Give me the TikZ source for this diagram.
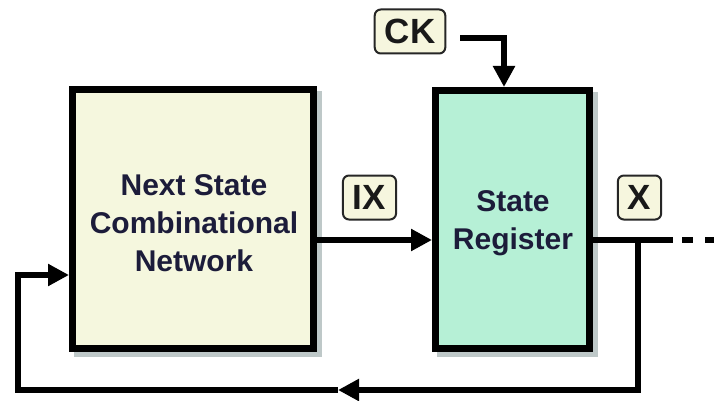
\documentclass[tikz,border=0pt]{standalone}
\usepackage{fontspec}
\setmainfont{Liberation Sans}
\usetikzlibrary{arrows.meta}
\definecolor{boxA}{RGB}{245,247,222}
\definecolor{boxB}{RGB}{182,240,214}
\definecolor{lblfill}{RGB}{246,246,222}
\definecolor{txt}{RGB}{28,28,58}
\definecolor{shad}{RGB}{190,200,200}
\tikzset{
  blockbox/.style={draw=black, line width=7pt, inner sep=0pt},
  blocktext/.style={align=center, text=txt, inner sep=0pt,
    font=\fontsize{30}{38}\selectfont\bfseries},
  lbl/.style={draw=black!85, line width=2pt, rounded corners=6pt, fill=lblfill,
    font=\fontsize{35}{35}\selectfont\bfseries, inner xsep=10pt, inner ysep=0pt,
    minimum height=44pt, text=black!90},
  wire/.style={line width=6pt},
  tip/.style={-{Triangle[length=21pt,width=21pt]}}
}
\begin{document}
\begin{tikzpicture}[x=1pt,y=-1pt]
\useasboundingbox[fill=white] (0,0) rectangle (714,401);
% shadows
\fill[shad] (74,91) rectangle (322,357);
\fill[shad] (437,92) rectangle (598,357);
% blocks
\node[blockbox, fill=boxA, minimum width=241pt, minimum height=259pt] (nsl) at (193,219) {};
\node[blocktext] (nsltext) at (194,223) {Next State\\Combinational\\Network};
\node[blockbox, fill=boxB, minimum width=154pt, minimum height=258pt] (reg) at (512.5,219.5) {};
\node[blocktext] (regtext) at (513,223) {State\\Register};
% labels
\node[lbl] (ck) at (410,31.5) {CK};
\node[lbl] (ix) at (369.5,197.5) {IX};
\node[lbl] (x) at (639.5,197.5) {X};
% coordinates
\coordinate (yw) at (0,240);
\coordinate (ckw) at (460,38);
\coordinate (ckx) at (504,0);
\coordinate (xend) at (673,240);
\coordinate (xfar) at (714,240);
\coordinate (jn) at (638,240);
\coordinate (mid) at (338,390);
\coordinate (lft) at (18,390);
\coordinate (yf) at (0,275);
% wires
\draw[wire,tip] (ckw) -| (ckx |- reg.north);
\draw[wire,tip] (yw -| nsl.east) -- (yw -| reg.west);
\draw[wire] (yw -| reg.east) -- (xend);
\draw[wire, dash pattern=on 11pt off 12pt] (xend) ++(9,0) -- (xfar);
\draw[wire,tip] (jn) |- (mid);
\draw[wire,tip] (mid) -- (lft) -- (lft |- yf) -- (yf -| nsl.west);
\end{tikzpicture}
\end{document}
